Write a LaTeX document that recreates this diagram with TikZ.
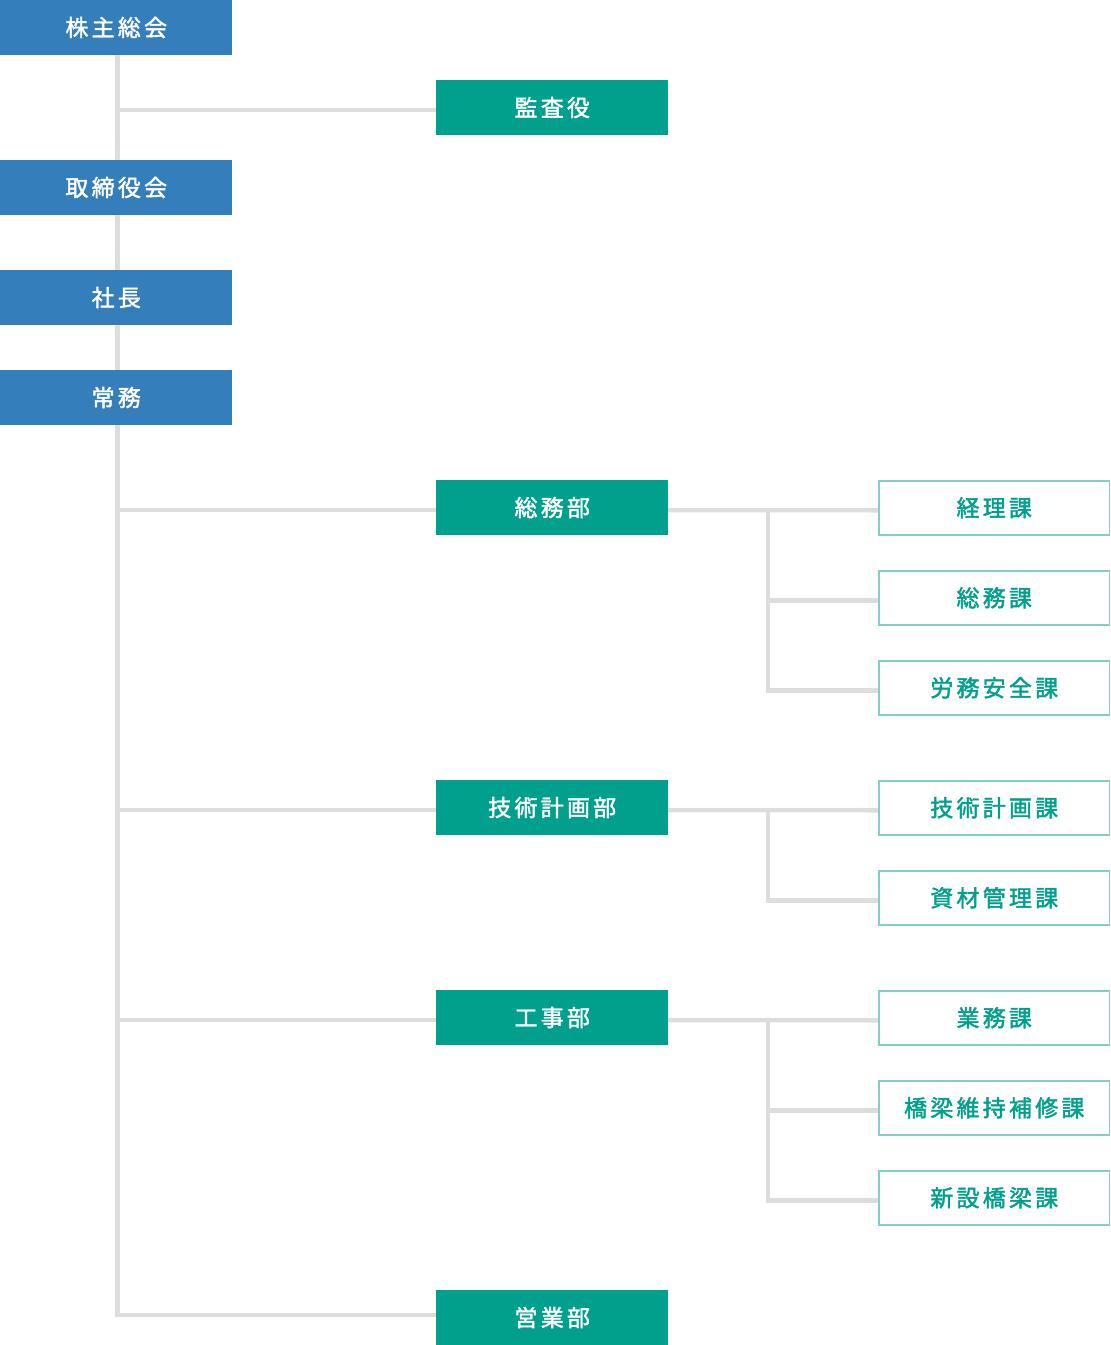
\documentclass[tikz,border=0pt]{standalone}
\usepackage{fontspec}
\usetikzlibrary{backgrounds}
\newfontfamily\jp[LetterSpace=14, FakeBold=1.8]{Noto Sans CJK JP}
\definecolor{cblue}{HTML}{337EBB}
\definecolor{cteal}{HTML}{00A08C}
\definecolor{cedge}{HTML}{80D0C6}
\definecolor{cline}{HTML}{DDDDDD}
\newcommand{\lbl}[1]{\kern0.5pt#1}
\tikzset{
  base/.style={anchor=north west, minimum width=232pt, minimum height=55pt, inner sep=0pt, outer sep=0pt, font=\jp\fontsize{23}{26}\selectfont},
  bluebox/.style={base, fill=cblue, text=white},
  tealbox/.style={base, fill=cteal, text=white},
  outbox/.style={base, draw=cedge, line width=1.5pt, fill=white, text=cteal, minimum width=230.5pt, minimum height=54pt},
  conn/.style={draw=cline, line width=4.5pt},
  dn/.style={yshift=-2.5pt},
  up/.style={yshift=2.5pt}
}
\begin{document}
\begin{tikzpicture}[x=1pt,y=-1pt]
\useasboundingbox (0,0) rectangle (1111,1345);
% left column
\node[bluebox] (kabu) at (0,0) {\lbl{株主総会}};
\node[bluebox] (tori) at (0,160) {\lbl{取締役会}};
\node[bluebox] (shacho) at (0,270) {\lbl{社長}};
\node[bluebox] (jomu) at (0,370) {\lbl{常務}};
% middle column
\node[tealbox] (kansa) at (436,80) {\lbl{監査役}};
\node[tealbox] (somubu) at (436,480) {\lbl{総務部}};
\node[tealbox] (gijutsubu) at (436,780) {\lbl{技術計画部}};
\node[tealbox] (kojibu) at (436,990) {\lbl{工事部}};
\node[tealbox] (eigyo) at (436,1290) {\lbl{営業部}};
% right column
\node[outbox] (keiri) at (878.75,480.75) {\lbl{経理課}};
\node[outbox] (somuka) at (878.75,570.75) {\lbl{総務課}};
\node[outbox] (romu) at (878.75,660.75) {\lbl{労務安全課}};
\node[outbox] (gijutsuka) at (878.75,780.75) {\lbl{技術計画課}};
\node[outbox] (shizai) at (878.75,870.75) {\lbl{資材管理課}};
\node[outbox] (gyomu) at (878.75,990.75) {\lbl{業務課}};
\node[outbox] (kyoryo) at (878.75,1080.75) {\lbl{橋梁維持補修課}};
\node[outbox] (shinsetsu) at (878.75,1170.75) {\lbl{新設橋梁課}};
\coordinate (trunk) at (117.5,55);
\coordinate (s1) at (768,510);
\coordinate (s2) at (768,810);
\coordinate (s3) at (768,1020);
\begin{scope}[on background layer]
\draw[conn] (trunk) -- ([up]trunk |- eigyo.west) -- ([up]eigyo.west);
\draw[conn] ([dn]trunk |- kansa.west) -- ([dn]kansa.west);
\draw[conn] ([dn]trunk |- somubu.west) -- ([dn]somubu.west);
\draw[conn] ([dn]trunk |- gijutsubu.west) -- ([dn]gijutsubu.west);
\draw[conn] ([dn]trunk |- kojibu.west) -- ([dn]kojibu.west);
\draw[conn] ([dn]somubu.east) -- ([dn]keiri.west);
\draw[conn] (s1) |- ([dn]somuka.west);
\draw[conn] (s1) |- ([dn]romu.west);
\draw[conn] ([dn]gijutsubu.east) -- ([dn]gijutsuka.west);
\draw[conn] (s2) |- ([dn]shizai.west);
\draw[conn] ([dn]kojibu.east) -- ([dn]gyomu.west);
\draw[conn] (s3) |- ([dn]kyoryo.west);
\draw[conn] (s3) |- ([dn]shinsetsu.west);
\end{scope}
\end{tikzpicture}
\end{document}
